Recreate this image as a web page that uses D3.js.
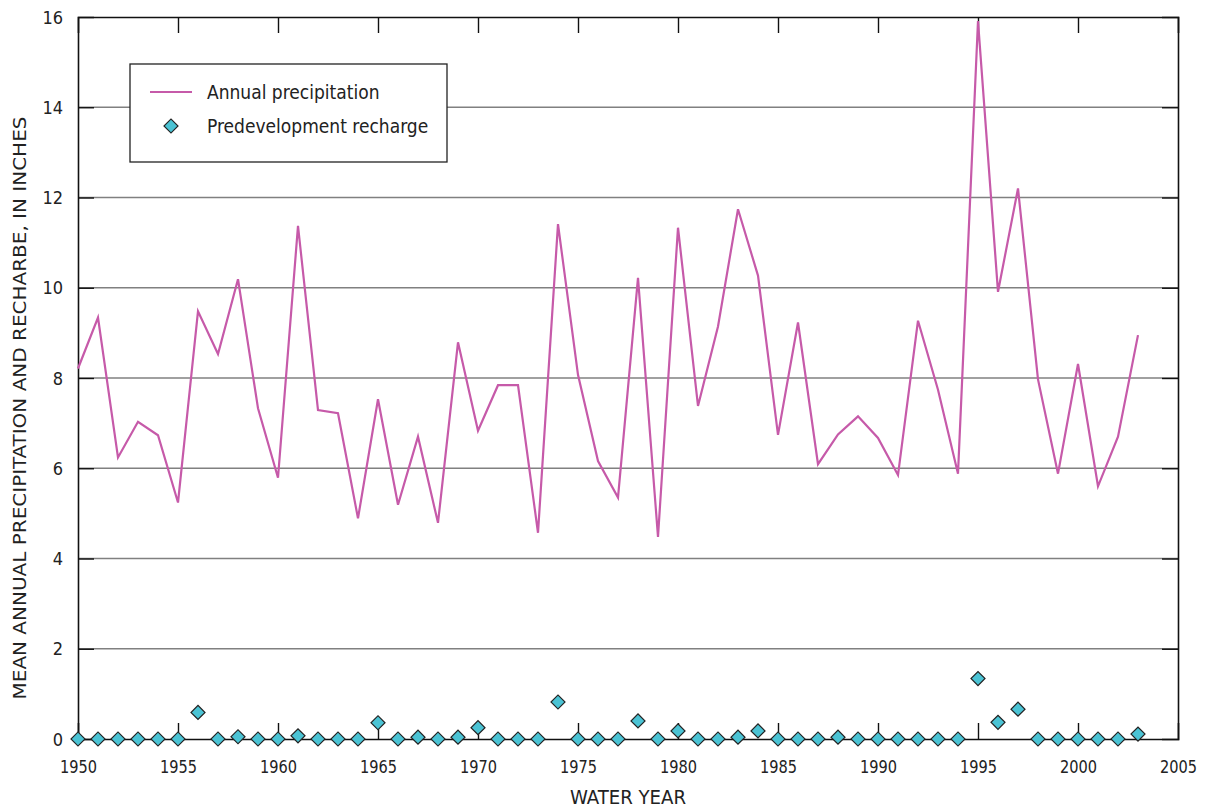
<!DOCTYPE html>
<html>
<head>
<meta charset="utf-8">
<script src="https://cdn.jsdelivr.net/npm/d3@7"></script>
<style>
  html, body { margin: 0; padding: 0; background: #fff; }
  svg { display: block; }
  text { font-family: "Liberation Sans Narrow", "DejaVu Sans Condensed", "Roboto", sans-serif; fill: #222; }
</style>
</head>
<body>
<svg id="chart" width="1209" height="811"></svg>
<script>
const years = d3.range(1950, 2004);
const precipitation = [
  8.21, 9.34, 6.24, 7.03, 6.73, 5.24, 9.48, 8.53, 10.19, 7.33,
  5.79, 11.37, 7.29, 7.22, 4.89, 7.53, 5.19, 6.70, 4.79, 8.79,
  6.83, 7.84, 7.84, 4.57, 11.41, 8.07, 6.16, 5.35, 10.22, 4.48,
  11.33, 7.38, 9.14, 11.74, 10.27, 6.74, 9.23, 6.09, 6.75, 7.15,
  6.67, 5.85, 9.27, 7.74, 5.88, 15.91, 9.91, 12.20, 7.97, 5.88,
  8.31, 5.60, 6.70, 8.95
];
const recharge = [
  0, 0, 0, 0, 0, 0, 0.59, 0, 0.05, 0,
  0, 0.07, 0, 0, 0, 0.36, 0, 0.04, 0, 0.04,
  0.25, 0, 0, 0, 0.82, 0, 0, 0, 0.40, 0,
  0.18, 0, 0, 0.04, 0.18, 0, 0, 0, 0.04, 0,
  0, 0, 0, 0, 0, 1.34, 0.37, 0.66, 0, 0,
  0, 0, 0, 0.11
];
const xTicks = [1950, 1955, 1960, 1965, 1970, 1975, 1980, 1985, 1990, 1995, 2000, 2005];
const yTicks = [0, 2, 4, 6, 8, 10, 12, 14, 16];
const legendLabels = ["Annual precipitation", "Predevelopment recharge"];
const xTitle = "WATER YEAR";
const yTitle = "MEAN ANNUAL PRECIPITATION AND RECHARBE, IN INCHES";

const lineColor = "#c65aa9";
const diamondFill = "#4bc3d4";

const margin = { left: 78, right: 31, top: 17, bottom: 72 };
const W = 1209, H = 811;
const svg = d3.select("#chart");

const x = d3.scaleLinear().domain([1950, 2005]).range([margin.left, W - margin.right]);
const y = d3.scaleLinear().domain([0, 16]).range([H - margin.bottom, margin.top]);

// gridlines
svg.append("g")
  .selectAll("line")
  .data(yTicks.filter(v => v > 0 && v < 16))
  .join("line")
  .attr("x1", x(1950)).attr("x2", x(2005))
  .attr("y1", d => y(d)).attr("y2", d => y(d))
  .attr("stroke", "#808080").attr("stroke-width", 1.3);

const tickLen = 16;
const fontSize = 19;
const tickFont = 18;

// bottom axis
const xAxisB = svg.append("g").attr("transform", `translate(0,${y(0)})`)
  .call(d3.axisBottom(x).tickValues(xTicks).tickFormat(d3.format("d")).tickSize(-tickLen).tickPadding(21));
// top axis
const xAxisT = svg.append("g").attr("transform", `translate(0,${y(16)})`)
  .call(d3.axisTop(x).tickValues(xTicks).tickFormat("").tickSize(-tickLen));
// left axis
const yAxisL = svg.append("g").attr("transform", `translate(${x(1950)},0)`)
  .call(d3.axisLeft(y).tickValues(yTicks).tickFormat(d3.format("d")).tickSize(-tickLen).tickPadding(15));
// right axis
const yAxisR = svg.append("g").attr("transform", `translate(${x(2005)},0)`)
  .call(d3.axisRight(y).tickValues(yTicks).tickFormat("").tickSize(-tickLen));

[xAxisB, xAxisT, yAxisL, yAxisR].forEach(g => {
  g.select(".domain").attr("stroke", "#111").attr("stroke-width", 1.6);
  g.selectAll(".tick line").attr("stroke", "#111").attr("stroke-width", 1.4);
  g.selectAll(".tick text").attr("font-size", tickFont)
    .attr("font-family", '"Liberation Sans Narrow", "DejaVu Sans Condensed", sans-serif')
    .attr("fill", "#222");
});
xAxisB.selectAll(".tick").filter(d => d === 1950 || d === 2005).select("line").remove();
xAxisT.selectAll(".tick").filter(d => d === 1950 || d === 2005).select("line").remove();
yAxisL.selectAll(".tick").filter(d => d === 0 || d === 16).select("line").remove();
yAxisR.selectAll(".tick").filter(d => d === 0 || d === 16).select("line").remove();
yAxisL.selectAll(".tick text").attr("dy", "0.34em");
xAxisB.selectAll(".tick text").attr("textLength", 37).attr("lengthAdjust", "spacingAndGlyphs");

// precipitation line
const line = d3.line().x((d, i) => x(years[i])).y(d => y(d));
svg.append("path")
  .datum(precipitation)
  .attr("fill", "none")
  .attr("stroke", lineColor)
  .attr("stroke-width", 2.2)
  .attr("stroke-linejoin", "miter")
  .attr("d", line);

// recharge diamonds
const diamond = d3.symbol().type(d3.symbolSquare).size(98);
svg.append("g")
  .selectAll("path")
  .data(recharge)
  .join("path")
  .attr("d", diamond)
  .attr("transform", (d, i) => `translate(${x(years[i])},${y(d)}) rotate(45)`)
  .attr("fill", diamondFill)
  .attr("stroke", "#222")
  .attr("stroke-width", 1.2);

// axis titles
svg.append("text")
  .attr("x", (x(1950) + x(2005)) / 2)
  .attr("y", 804)
  .attr("text-anchor", "middle")
  .attr("font-size", fontSize)
  .attr("textLength", 116)
  .attr("lengthAdjust", "spacingAndGlyphs")
  .text(xTitle);

svg.append("text")
  .attr("transform", `translate(26,408) rotate(-90)`)
  .attr("text-anchor", "middle")
  .attr("font-size", 17.5)
  .attr("textLength", 583)
  .attr("lengthAdjust", "spacingAndGlyphs")
  .text(yTitle);

// legend
const lg = svg.append("g");
lg.append("rect")
  .attr("x", 130).attr("y", 64).attr("width", 317).attr("height", 98)
  .attr("fill", "#fff").attr("stroke", "#222").attr("stroke-width", 1.3);
lg.append("line")
  .attr("x1", 150).attr("x2", 192).attr("y1", 92).attr("y2", 92)
  .attr("stroke", lineColor).attr("stroke-width", 2.2);
lg.append("path")
  .attr("d", diamond)
  .attr("transform", "translate(171,126) rotate(45)")
  .attr("fill", diamondFill).attr("stroke", "#222").attr("stroke-width", 1.2);
lg.selectAll("text.leg")
  .data(legendLabels)
  .join("text")
  .attr("class", "leg")
  .attr("x", 207)
  .attr("y", (d, i) => 92 + i * 34)
  .attr("dy", "0.35em")
  .attr("font-size", fontSize)
  .text(d => d);
</script>
</body>
</html>
